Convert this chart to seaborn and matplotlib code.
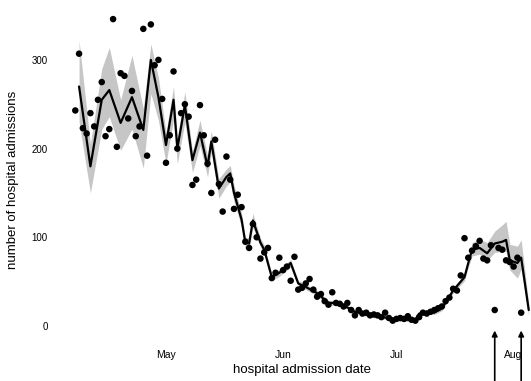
import pandas as pd
import matplotlib
matplotlib.use("Agg")
import matplotlib.pyplot as plt
import matplotlib.dates as mdates
import seaborn as sns

# ================= DATA =================
BASE_DATE = pd.Timestamp("2020-05-01")

# observed daily admissions, one value per day from 7 April
obs_start = "2020-04-07"
obs_values = [243, 307, 223, 217, 240, 225, 255, 275, 214, 222, 346, 202, 285, 282,
              234, 265, 214, 225, 335, 192, 340, 294, 300, 256, 184,
              215, 287, 200, 240, 250, 236, 159, 165, 249, 215, 183, 150, 210, 160,
              129, 191, 165, 132, 148, 134, 95, 88, 115, 100, 76, 83, 88, 54, 60,
              77, 63, 67, 51, 78, 41, 43, 48, 53, 41, 33, 36, 28, 24, 38, 26, 25,
              22, 26, 18, 12, 18, 14, 15, 12, 13, 12, 10, 15, 9, 6, 8, 9, 8, 11,
              7, 6, 10, 15, 14, 16, 18, 20, 22, 28, 32, 42, 40, 57, 99, 77, 85, 90,
              96, 76, 74, 91, 18, 88, 86, 74, 72, 67, 77, 15]

# nowcast median and interval (days relative to 1 May)
line_day = [-23, -20, -17, -15, -12, -9, -6, -4, -2, 0, 2, 3, 5, 7, 9, 11, 12, 14, 16, 17,
            18, 19, 20, 21, 22, 23, 25, 26, 28, 30, 32, 33, 35, 37, 40, 43, 45, 48, 50, 54,
            59, 63, 66, 67, 69, 71, 73, 76, 79, 80, 81, 83, 85, 87, 89, 90, 91, 93, 94, 96]
line_med = [270, 180, 255, 266, 229, 258, 221, 300, 258, 204, 255, 200, 249, 187, 218, 180,
            208, 155, 168, 172, 150, 135, 120, 94, 93, 119, 94, 86, 55, 60, 67, 71, 48, 44,
            37, 26, 26, 21, 16, 12, 9, 7, 7, 14, 16, 15, 20, 40, 55, 71, 86, 88, 82, 93, 95,
            97, 74, 71, 77, 18]
line_hi = [322, 205, 290, 314, 255, 305, 245, 318, 280, 218, 270, 212, 264, 197, 232, 192,
           220, 166, 177, 181, 159, 143, 127, 100, 99, 127, 99, 91, 59, 64, 71, 75, 51, 47,
           40, 29, 28, 23, 18, 14, 11, 9, 9, 16, 18, 17, 23, 43, 59, 76, 94, 98, 94, 107,
           114, 118, 92, 90, 97, 25]
line_lo = [230, 150, 222, 236, 198, 222, 178, 262, 232, 183, 233, 183, 230, 173, 203, 168,
           196, 144, 158, 162, 140, 126, 112, 88, 87, 111, 89, 81, 51, 56, 63, 67, 45, 41,
           34, 23, 24, 19, 14, 10, 7, 5, 5, 12, 14, 13, 17, 37, 51, 66, 79, 81, 74, 83, 84,
           84, 63, 54, 64, 12]

# days (relative to 1 May) of the two flagged observations
arrow_days = [87, 94]

y_ticks = [0, 100, 200, 300]
month_ticks = ["2020-05-01", "2020-06-01", "2020-07-01", "2020-08-01"]

# ================= PLOT =================
obs = pd.DataFrame({"date": pd.date_range(obs_start, periods=len(obs_values), freq="D"),
                    "admissions": obs_values})
now = pd.DataFrame({"date": BASE_DATE + pd.to_timedelta(line_day, unit="D"),
                    "median": line_med, "lo": line_lo, "hi": line_hi})

sns.set_theme(style="white")
plt.rcParams["font.family"] = ["Liberation Sans", "DejaVu Sans"]
plt.rcParams.update({"text.color": "black", "xtick.color": "black", "ytick.color": "black",
                     "axes.labelcolor": "black"})

fig = plt.figure(figsize=(5.31, 3.81), dpi=100)
ax = fig.add_axes([70 / 531, 1 - 340 / 381, 461 / 531, 335 / 381])

ax.fill_between(now["date"], now["lo"], now["hi"], color="#c6c6c6", linewidth=0, zorder=1)
sns.lineplot(data=now, x="date", y="median", color="black", linewidth=1.6, ax=ax, zorder=2)
sns.scatterplot(data=obs, x="date", y="admissions", color="black", s=22, edgecolor="none",
                ax=ax, zorder=3)

for d in arrow_days:
    dt = BASE_DATE + pd.Timedelta(days=d)
    ax.annotate("", xy=(dt, -2), xytext=(dt, -65), annotation_clip=False,
                arrowprops=dict(arrowstyle="-|>", color="black", lw=1.2, mutation_scale=8))

ax.set_xlim(BASE_DATE + pd.Timedelta(days=-25.4), BASE_DATE + pd.Timedelta(days=96.6))
ax.set_ylim(-15.8, 361.9)
ax.set_yticks(y_ticks)
ax.set_yticklabels([str(v) for v in y_ticks], fontsize=7)
ax.set_xticks(pd.to_datetime(month_ticks))
ax.xaxis.set_major_formatter(mdates.DateFormatter("%b"))
ax.tick_params(axis="x", length=0, pad=7, labelsize=7.5)
ax.tick_params(axis="y", length=0, pad=16, labelsize=7)
for s in ax.spines.values():
    s.set_visible(False)
ax.set_xlabel("")
ax.set_ylabel("")

fig.text(302 / 531, 1 - 370 / 381, "hospital admission date", ha="center", va="center",
         fontsize=9.5)
fig.text(13 / 531, 1 - 180 / 381, "number of hospital admissions", ha="center",
         va="center", rotation=90, fontsize=9.5)

fig.savefig("out.png", dpi=100)
